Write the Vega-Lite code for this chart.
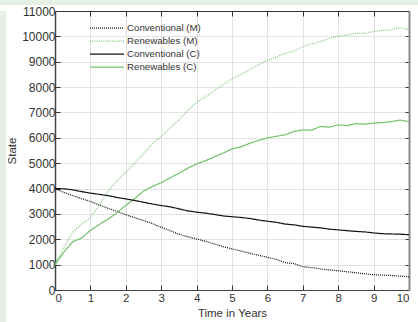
{
"$schema": "https://vega.github.io/schema/vega-lite/v6.json",
"padding": 0,
"background": "white",
"spacing": 0,
"config": {
  "font": "Liberation Sans",
  "view": {"stroke": null},
  "concat": {"spacing": 0},
  "axis": {"labelFontSize": 11.5, "labelColor": "#333", "titleFontSize": 11.5, "titleFontWeight": "normal", "titleColor": "#333", "tickColor": "#333", "domainColor": "#444", "gridColor": "#e2e2e2", "format": "d"},
  "legend": {"labelFontSize": 9.7, "labelColor": "#333"}
},
"vconcat": [
  {"width": 418, "height": 5, "view": {"fill": "#e6efe5", "stroke": null}, "data": {"values": []}, "mark": "rect"},
  {"hconcat": [
    {"width": 6, "height": 317, "view": {"fill": "#e6efe5", "stroke": null}, "data": {"values": []}, "mark": "rect"},
    {
    "width": 354, "height": 279,
    "data": {"values": [
{"s":"Renewables (M)","t":0,"v":1000},{"s":"Renewables (M)","t":0.25,"v":1700},{"s":"Renewables (M)","t":0.5,"v":2275},{"s":"Renewables (M)","t":0.75,"v":2600},{"s":"Renewables (M)","t":1,"v":2850},{"s":"Renewables (M)","t":1.25,"v":3350},{"s":"Renewables (M)","t":1.5,"v":3900},{"s":"Renewables (M)","t":1.75,"v":4300},{"s":"Renewables (M)","t":2,"v":4650},{"s":"Renewables (M)","t":2.25,"v":5000},{"s":"Renewables (M)","t":2.5,"v":5370},{"s":"Renewables (M)","t":2.75,"v":5760},{"s":"Renewables (M)","t":3,"v":6050},{"s":"Renewables (M)","t":3.25,"v":6380},{"s":"Renewables (M)","t":3.5,"v":6700},{"s":"Renewables (M)","t":3.75,"v":7080},{"s":"Renewables (M)","t":4,"v":7400},{"s":"Renewables (M)","t":4.25,"v":7620},{"s":"Renewables (M)","t":4.5,"v":7850},{"s":"Renewables (M)","t":4.75,"v":8100},{"s":"Renewables (M)","t":5,"v":8330},{"s":"Renewables (M)","t":5.25,"v":8500},{"s":"Renewables (M)","t":5.5,"v":8680},{"s":"Renewables (M)","t":5.75,"v":8880},{"s":"Renewables (M)","t":6,"v":9050},{"s":"Renewables (M)","t":6.25,"v":9180},{"s":"Renewables (M)","t":6.5,"v":9330},{"s":"Renewables (M)","t":6.75,"v":9420},{"s":"Renewables (M)","t":7,"v":9600},{"s":"Renewables (M)","t":7.25,"v":9700},{"s":"Renewables (M)","t":7.5,"v":9800},{"s":"Renewables (M)","t":7.75,"v":9920},{"s":"Renewables (M)","t":8,"v":10010},{"s":"Renewables (M)","t":8.25,"v":10050},{"s":"Renewables (M)","t":8.5,"v":10120},{"s":"Renewables (M)","t":8.75,"v":10130},{"s":"Renewables (M)","t":9,"v":10190},{"s":"Renewables (M)","t":9.25,"v":10230},{"s":"Renewables (M)","t":9.5,"v":10260},{"s":"Renewables (M)","t":9.75,"v":10340},{"s":"Renewables (M)","t":10,"v":10270},
{"s":"Renewables (C)","t":0,"v":1000},{"s":"Renewables (C)","t":0.25,"v":1500},{"s":"Renewables (C)","t":0.5,"v":1900},{"s":"Renewables (C)","t":0.75,"v":2050},{"s":"Renewables (C)","t":1,"v":2350},{"s":"Renewables (C)","t":1.25,"v":2580},{"s":"Renewables (C)","t":1.5,"v":2800},{"s":"Renewables (C)","t":1.75,"v":3050},{"s":"Renewables (C)","t":2,"v":3330},{"s":"Renewables (C)","t":2.25,"v":3600},{"s":"Renewables (C)","t":2.5,"v":3900},{"s":"Renewables (C)","t":2.75,"v":4080},{"s":"Renewables (C)","t":3,"v":4230},{"s":"Renewables (C)","t":3.25,"v":4420},{"s":"Renewables (C)","t":3.5,"v":4600},{"s":"Renewables (C)","t":3.75,"v":4800},{"s":"Renewables (C)","t":4,"v":4970},{"s":"Renewables (C)","t":4.25,"v":5100},{"s":"Renewables (C)","t":4.5,"v":5250},{"s":"Renewables (C)","t":4.75,"v":5400},{"s":"Renewables (C)","t":5,"v":5560},{"s":"Renewables (C)","t":5.25,"v":5650},{"s":"Renewables (C)","t":5.5,"v":5780},{"s":"Renewables (C)","t":5.75,"v":5900},{"s":"Renewables (C)","t":6,"v":6000},{"s":"Renewables (C)","t":6.25,"v":6060},{"s":"Renewables (C)","t":6.5,"v":6120},{"s":"Renewables (C)","t":6.75,"v":6250},{"s":"Renewables (C)","t":7,"v":6310},{"s":"Renewables (C)","t":7.25,"v":6300},{"s":"Renewables (C)","t":7.5,"v":6450},{"s":"Renewables (C)","t":7.75,"v":6420},{"s":"Renewables (C)","t":8,"v":6510},{"s":"Renewables (C)","t":8.25,"v":6480},{"s":"Renewables (C)","t":8.5,"v":6560},{"s":"Renewables (C)","t":8.75,"v":6540},{"s":"Renewables (C)","t":9,"v":6580},{"s":"Renewables (C)","t":9.25,"v":6600},{"s":"Renewables (C)","t":9.5,"v":6640},{"s":"Renewables (C)","t":9.75,"v":6700},{"s":"Renewables (C)","t":10,"v":6640},
{"s":"Conventional (C)","t":0,"v":4000},{"s":"Conventional (C)","t":0.25,"v":3990},{"s":"Conventional (C)","t":0.5,"v":3950},{"s":"Conventional (C)","t":0.75,"v":3880},{"s":"Conventional (C)","t":1,"v":3820},{"s":"Conventional (C)","t":1.25,"v":3770},{"s":"Conventional (C)","t":1.5,"v":3720},{"s":"Conventional (C)","t":1.75,"v":3650},{"s":"Conventional (C)","t":2,"v":3590},{"s":"Conventional (C)","t":2.25,"v":3530},{"s":"Conventional (C)","t":2.5,"v":3460},{"s":"Conventional (C)","t":2.75,"v":3390},{"s":"Conventional (C)","t":3,"v":3330},{"s":"Conventional (C)","t":3.25,"v":3280},{"s":"Conventional (C)","t":3.5,"v":3200},{"s":"Conventional (C)","t":3.75,"v":3120},{"s":"Conventional (C)","t":4,"v":3070},{"s":"Conventional (C)","t":4.25,"v":3030},{"s":"Conventional (C)","t":4.5,"v":2980},{"s":"Conventional (C)","t":4.75,"v":2920},{"s":"Conventional (C)","t":5,"v":2890},{"s":"Conventional (C)","t":5.25,"v":2860},{"s":"Conventional (C)","t":5.5,"v":2820},{"s":"Conventional (C)","t":5.75,"v":2760},{"s":"Conventional (C)","t":6,"v":2710},{"s":"Conventional (C)","t":6.25,"v":2670},{"s":"Conventional (C)","t":6.5,"v":2600},{"s":"Conventional (C)","t":6.75,"v":2570},{"s":"Conventional (C)","t":7,"v":2510},{"s":"Conventional (C)","t":7.25,"v":2480},{"s":"Conventional (C)","t":7.5,"v":2450},{"s":"Conventional (C)","t":7.75,"v":2400},{"s":"Conventional (C)","t":8,"v":2370},{"s":"Conventional (C)","t":8.25,"v":2340},{"s":"Conventional (C)","t":8.5,"v":2310},{"s":"Conventional (C)","t":8.75,"v":2290},{"s":"Conventional (C)","t":9,"v":2250},{"s":"Conventional (C)","t":9.25,"v":2220},{"s":"Conventional (C)","t":9.5,"v":2210},{"s":"Conventional (C)","t":9.75,"v":2200},{"s":"Conventional (C)","t":10,"v":2180},
{"s":"Conventional (M)","t":0,"v":4000},{"s":"Conventional (M)","t":0.25,"v":3850},{"s":"Conventional (M)","t":0.5,"v":3720},{"s":"Conventional (M)","t":0.75,"v":3600},{"s":"Conventional (M)","t":1,"v":3490},{"s":"Conventional (M)","t":1.25,"v":3350},{"s":"Conventional (M)","t":1.5,"v":3220},{"s":"Conventional (M)","t":1.75,"v":3100},{"s":"Conventional (M)","t":2,"v":2970},{"s":"Conventional (M)","t":2.25,"v":2850},{"s":"Conventional (M)","t":2.5,"v":2740},{"s":"Conventional (M)","t":2.75,"v":2620},{"s":"Conventional (M)","t":3,"v":2470},{"s":"Conventional (M)","t":3.25,"v":2340},{"s":"Conventional (M)","t":3.5,"v":2200},{"s":"Conventional (M)","t":3.75,"v":2100},{"s":"Conventional (M)","t":4,"v":2010},{"s":"Conventional (M)","t":4.25,"v":1920},{"s":"Conventional (M)","t":4.5,"v":1820},{"s":"Conventional (M)","t":4.75,"v":1710},{"s":"Conventional (M)","t":5,"v":1620},{"s":"Conventional (M)","t":5.25,"v":1540},{"s":"Conventional (M)","t":5.5,"v":1450},{"s":"Conventional (M)","t":5.75,"v":1370},{"s":"Conventional (M)","t":6,"v":1290},{"s":"Conventional (M)","t":6.25,"v":1210},{"s":"Conventional (M)","t":6.5,"v":1080},{"s":"Conventional (M)","t":6.75,"v":1040},{"s":"Conventional (M)","t":7,"v":920},{"s":"Conventional (M)","t":7.25,"v":880},{"s":"Conventional (M)","t":7.5,"v":830},{"s":"Conventional (M)","t":7.75,"v":790},{"s":"Conventional (M)","t":8,"v":760},{"s":"Conventional (M)","t":8.25,"v":720},{"s":"Conventional (M)","t":8.5,"v":680},{"s":"Conventional (M)","t":8.75,"v":640},{"s":"Conventional (M)","t":9,"v":600},{"s":"Conventional (M)","t":9.25,"v":590},{"s":"Conventional (M)","t":9.5,"v":570},{"s":"Conventional (M)","t":9.75,"v":550},{"s":"Conventional (M)","t":10,"v":520}
    ]},
    "encoding": {
      "color": {"field": "s", "type": "nominal", "scale": {"domain": ["Conventional (M)", "Renewables (M)", "Conventional (C)", "Renewables (C)"], "range": ["#111111", "#7cc576", "#111111", "#72c06c"]},
        "legend": {"orient": "none", "legendX": 89, "legendY": 22, "title": null, "symbolType": "stroke", "symbolSize": 1156, "clipHeight": 12.2, "rowPadding": 0, "labelOffset": 2}},
      "strokeDash": {"field": "s", "type": "nominal", "scale": {"domain": ["Conventional (M)", "Renewables (M)", "Conventional (C)", "Renewables (C)"], "range": [[1, 1], [1, 1.2], [1, 0], [1, 0]]}},
      "strokeWidth": {"field": "s", "type": "nominal", "scale": {"domain": ["Conventional (M)", "Renewables (M)", "Conventional (C)", "Renewables (C)"], "range": [1.2, 1.2, 2, 1.8]}}
    },
    "layer": [
      {
        "transform": [{"filter": "datum.s == 'Conventional (M)' || datum.s == 'Renewables (M)'"}],
        "mark": {"type": "line"},
        "encoding": {
          "x": {"field": "t", "type": "quantitative", "scale": {"domain": [0, 10], "nice": false}, "axis": {"title": "Time in Years", "values": [0,1,2,3,4,5,6,7,8,9,10], "tickSize": -5, "labelPadding": 7, "titlePadding": 4, "domainWidth": 1.2}},
          "y": {"field": "v", "type": "quantitative", "scale": {"domain": [0, 11000], "nice": false}, "axis": {"title": "State", "labelFontSize": 12, "values": [0,1000,2000,3000,4000,5000,6000,7000,8000,9000,10000,11000], "tickSize": -5, "labelPadding": 5, "titlePadding": 4, "domainWidth": 1.5}}
        }
      },
      {
        "transform": [{"filter": "datum.s == 'Conventional (C)' || datum.s == 'Renewables (C)'"}],
        "mark": {"type": "line"},
        "encoding": {
          "x": {"field": "t", "type": "quantitative", "axis": {"orient": "top", "title": null, "labels": false, "grid": false, "values": [0,1,2,3,4,5,6,7,8,9,10], "tickSize": -5, "domainColor": "#333"}},
          "y": {"field": "v", "type": "quantitative", "axis": {"orient": "right", "title": null, "labels": false, "grid": false, "values": [0,1000,2000,3000,4000,5000,6000,7000,8000,9000,10000,11000], "tickSize": -4, "domainColor": "#8a8a8a", "domainWidth": 2}}
        }
      }
    ],
    "resolve": {"axis": {"x": "independent", "y": "independent"}}
    }
  ]}
]
}
